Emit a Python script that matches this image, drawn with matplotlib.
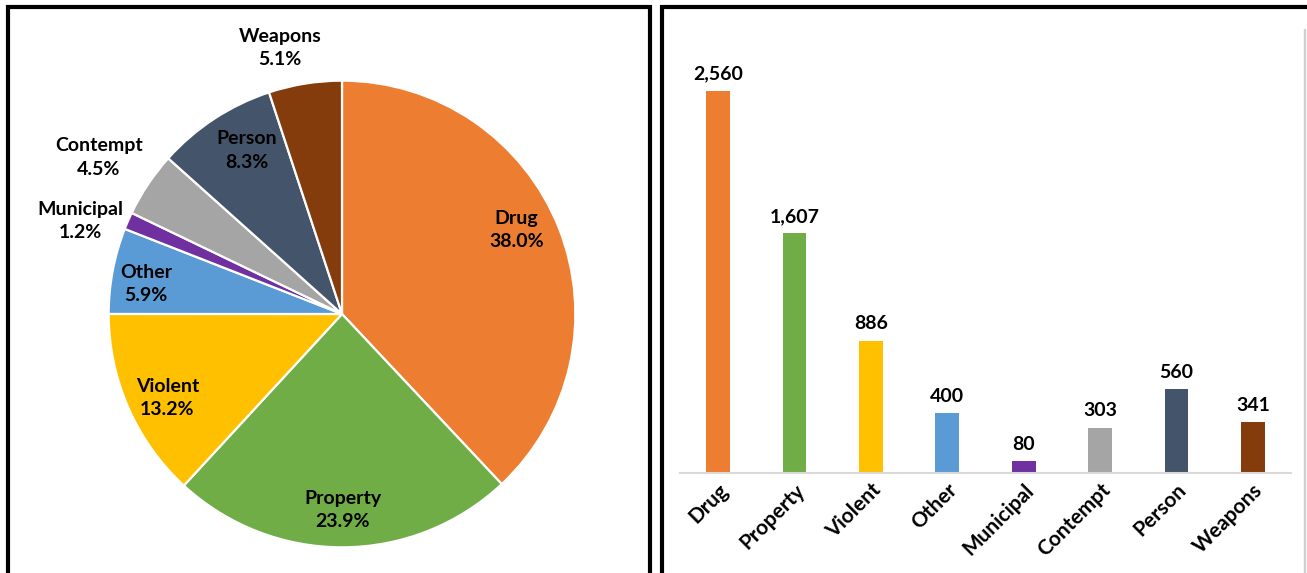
import numpy as np
import matplotlib
matplotlib.use("Agg")
import matplotlib.pyplot as plt
from matplotlib.patches import Rectangle

plt.rcParams["font.family"] = ["Lato", "DejaVu Sans"]
plt.rcParams["font.weight"] = "bold"

categories = ["Drug", "Property", "Violent", "Other", "Municipal",
              "Contempt", "Person", "Weapons"]
counts = [2560, 1607, 886, 400, 80, 303, 560, 341]
colors = ["#ED7D31", "#70AD47", "#FFC000", "#5B9BD5", "#7030A0",
          "#A5A5A5", "#44546A", "#843C0C"]

# radial position of each pie label (1.0 = rim)
label_dist = [0.83, 0.84, 0.83, 0.85, 1.19, 1.24, 0.81, 1.17]
label_shift = [4, 0, 2, 2, 4, 1, -3, 4]   # small angular nudge, degrees

W, H = 1307, 573
fig = plt.figure(figsize=(W / 100, H / 100), dpi=100)

# ---------- pie ----------
cx, cy, half = 342, 314, 280
axP = fig.add_axes([(cx - half) / W, (H - cy - half) / H, 2 * half / W, 2 * half / H])
wedges, _ = axP.pie(counts, colors=colors, startangle=90, counterclock=False,
                    wedgeprops=dict(edgecolor="white", linewidth=1.6))
axP.set_xlim(-1.2, 1.2); axP.set_ylim(-1.2, 1.2)
total = sum(counts)
for w, name, n, d, s in zip(wedges, categories, counts, label_dist, label_shift):
    ang = np.deg2rad((w.theta1 + w.theta2) / 2 + s)
    axP.text(d * np.cos(ang), d * np.sin(ang), f"{name}\n{100 * n / total:.1f}%",
             ha="center", va="center", fontsize=14, fontweight="bold",
             linespacing=1.45, color="black")

# ---------- bars ----------
ymax = 2900
top_px = 473 - ymax * 382 / 2560
axB = fig.add_axes([680 / W, (H - 473) / H, 611 / W, (473 - top_px) / H])
x = np.arange(len(categories))
axB.bar(x, counts, width=0.31, color=colors)
axB.set_xlim(-0.5, len(categories) - 0.5)
axB.set_ylim(0, ymax)
for xi, v in zip(x, counts):
    axB.annotate(f"{v:,}", (xi, v), xytext=(0, 6), textcoords="offset points",
                 ha="center", va="bottom", fontsize=14, fontweight="bold")
for sp in ("top", "right", "left"):
    axB.spines[sp].set_visible(False)
axB.spines["bottom"].set_color("#D9D9D9")
axB.spines["bottom"].set_linewidth(1.5)
axB.set_yticks([])
axB.set_xticks(x)
axB.set_xticklabels(categories, rotation=45, ha="right", rotation_mode="anchor",
                    fontsize=15, fontweight="bold")
axB.tick_params(axis="x", length=0, pad=5)

# ---------- panel frames ----------
for x0, x1 in [(8, 650), (662, 1312)]:
    fig.patches.append(Rectangle((x0 / W, -0.05), (x1 - x0) / W, (H - 7) / H + 0.05,
                                 transform=fig.transFigure, fill=False,
                                 edgecolor="black", linewidth=3.0))
fig.patches.append(Rectangle((1304 / W, -0.05), 0.001, 1.0, transform=fig.transFigure,
                             fill=False, edgecolor="#D0D0D0", linewidth=1.0))

fig.savefig("out.png", dpi=100, facecolor="white")
